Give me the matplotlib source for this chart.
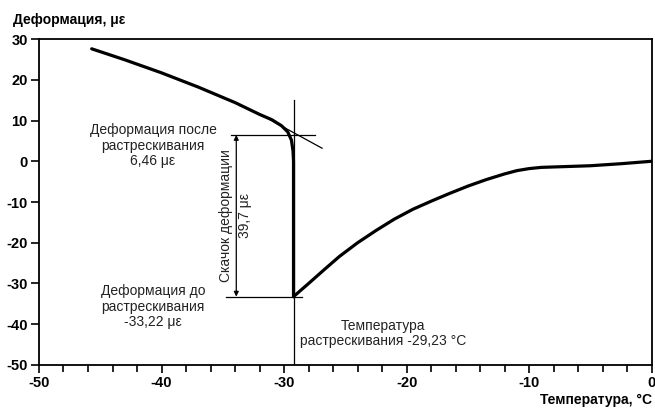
import matplotlib
matplotlib.use("Agg")
import matplotlib.pyplot as plt
from matplotlib.ticker import MultipleLocator

plt.rcParams['font.family'] = ['Liberation Sans', 'DejaVu Sans']
plt.rcParams['axes.unicode_minus'] = False

# Cooling branch (before cracking), temperature in °C, strain in με
temp_before = [-45.7, -43.0, -40.0, -37.0, -34.0, -32.0, -31.0, -30.2, -29.7, -29.4, -29.27, -29.23, -29.23]
strain_before = [27.6, 24.9, 21.7, 18.2, 14.4, 11.5, 10.2, 8.7, 7.2, 5.2, 2.5, 0.0, -33.22]
# Branch after cracking
temp_after = [-29.23, -28.0, -26.8, -25.5, -24.0, -22.5, -21.0, -19.5, -18.0, -16.5, -15.0,
              -13.5, -12.0, -11.0, -10.0, -9.0, -7.5, -5.0, -2.5, 0.0]
strain_after = [-33.22, -30.0, -26.8, -23.4, -20.0, -17.0, -14.2, -11.8, -9.8, -7.9, -6.1,
                -4.5, -3.1, -2.3, -1.8, -1.5, -1.35, -1.1, -0.6, 0.0]

crack_temp = -29.23
strain_after_crack = 6.46
strain_before_crack = -33.22
tangent_x = [-31.4, -26.9]
tangent_y = [10.6, 3.2]

fig = plt.figure(figsize=(6.55, 4.09), dpi=100)
ax = fig.add_axes([0.0595, 0.1076, 0.9355, 0.797])
ax.set_xlim(-50, 0)
ax.set_ylim(-50, 30)

ax.plot(temp_before, strain_before, color='black', lw=2.3, solid_joinstyle='round', solid_capstyle='round')
ax.plot(temp_after, strain_after, color='black', lw=2.3, solid_joinstyle='round', solid_capstyle='round')

thin = dict(color='black', lw=0.9)
ax.plot(tangent_x, tangent_y, **thin)
ax.plot([crack_temp, crack_temp], [-50, 15], **thin)
ax.plot([-34.3, -27.5], [strain_after_crack, strain_after_crack], **thin)
ax.plot([-34.7, -28.5], [strain_before_crack, strain_before_crack], **thin)
ax.annotate('', xy=(-33.9, strain_before_crack), xytext=(-33.9, strain_after_crack),
            arrowprops=dict(arrowstyle='<|-|>', color='black', lw=0.9,
                            mutation_scale=7, shrinkA=0, shrinkB=0))

txt = '#222222'
ax.text(-34.75, -13.3, 'Скачок деформации', rotation=90, ha='center', va='center', fontsize=10, color=txt)
ax.text(-33.15, -13.3, '39,7 με', rotation=90, ha='center', va='center', fontsize=10, color=txt)

ax.text(-40.7, 3.8, 'Деформация после\nрастрескивания\n6,46 με', ha='center', va='center',
        fontsize=10, linespacing=1.15, color=txt)
ax.text(-40.7, -35.7, 'Деформация до\nрастрескивания\n-33,22 με', ha='center', va='center',
        fontsize=10, linespacing=1.15, color=txt)
ax.text(-21.9, -42.3, 'Температура\nрастрескивания -29,23 °C', ha='center', va='center',
        fontsize=10, linespacing=1.15, color=txt)

ax.xaxis.set_major_locator(MultipleLocator(10))
ax.xaxis.set_minor_locator(MultipleLocator(2))
ax.yaxis.set_major_locator(MultipleLocator(10))
ax.tick_params(axis='both', which='major', direction='out', length=6, width=1.2, labelsize=10.5, pad=2)
ax.tick_params(axis='x', which='minor', direction='out', length=5, width=1.2)
for lab in ax.get_xticklabels() + ax.get_yticklabels():
    lab.set_fontweight('bold')
for s in ax.spines.values():
    s.set_linewidth(1.3)

fig.text(13/655, 1 - 20/409, 'Деформация, με', ha='left', va='center', fontsize=10, fontweight='bold')
fig.text(652/655, 1 - 400/409, 'Температура, °C', ha='right', va='center', fontsize=10, fontweight='bold')

fig.savefig('out.png', dpi=100)
